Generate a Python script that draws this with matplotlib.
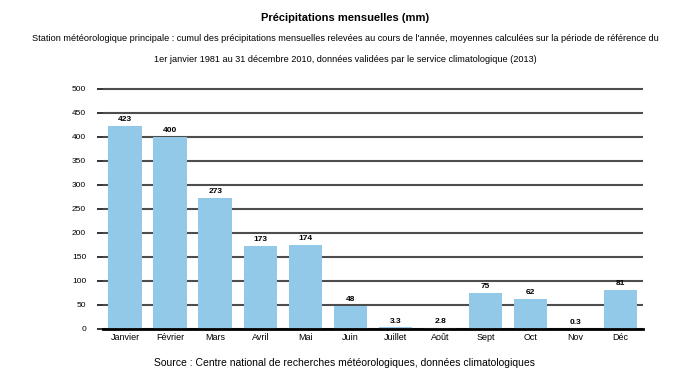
import numpy as np
import matplotlib.pyplot as plt

plt.rcParams['font.family'] = ['Liberation Sans', 'DejaVu Sans']

# donnees
mois = ["Janvier", "Février", "Mars", "Avril", "Mai", "Juin",
        "Juillet", "Août", "Sept", "Oct", "Nov", "Déc"]
valeurs = [423, 400, 273, 173, 174, 48, 3.3, 2.8, 75, 62, 0.3, 81]
etiquettes = ["423", "400", "273", "173", "174", "48", "3.3", "2.8", "75", "62", "0.3", "81"]
graduations = [0, 50, 100, 150, 200, 250, 300, 350, 400, 450, 500]

titre = "Précipitations mensuelles (mm)"
sous_titre = ("Station météorologique principale : cumul des précipitations mensuelles relevées au cours de l'année, "
              "moyennes calculées sur la période de référence du")
sous_titre2 = "1er janvier 1981 au 31 décembre 2010, données validées par le service climatologique (2013)"
source = "Source : Centre national de recherches météorologiques, données climatologiques"

fig = plt.figure(figsize=(6.9, 3.73), dpi=100)
ax = fig.add_axes([0.149, 0.118, 0.783, 0.648])

x = np.arange(len(mois))
ax.set_axisbelow(True)
ax.yaxis.grid(True, color="#4d4d4d", linewidth=1.5)
ax.bar(x, valeurs, width=0.75, color="#93c9e8", zorder=2)

for xi, v, t in zip(x, valeurs, etiquettes):
    ax.text(xi, v + 6, t, ha="center", va="bottom", fontsize=6, fontweight="bold", zorder=3)

ax.set_xlim(-0.5, 11.5)
ax.set_ylim(0, 503)
ax.set_yticks(graduations)
ax.set_yticklabels([str(g) for g in graduations], fontsize=6)
ax.set_xticks(x)
ax.set_xticklabels(mois, fontsize=6.5)
ax.tick_params(axis="x", length=0, pad=3)
ax.tick_params(axis="y", length=4, width=1.4, color="#333333", pad=8)

for s in ["top", "right", "left"]:
    ax.spines[s].set_visible(False)
ax.spines["bottom"].set_linewidth(2)
ax.spines["bottom"].set_color("black")
ax.spines["bottom"].set_zorder(4)

fig.text(0.5, 0.945, titre, ha="center", fontsize=8, fontweight="bold")
fig.text(0.5, 0.89, sous_titre, ha="center", fontsize=6.6)
fig.text(0.5, 0.835, sous_titre2, ha="center", fontsize=6.6)
fig.text(0.5, 0.02, source, ha="center", fontsize=7.5)

fig.savefig("out.png", dpi=100, facecolor="white")
